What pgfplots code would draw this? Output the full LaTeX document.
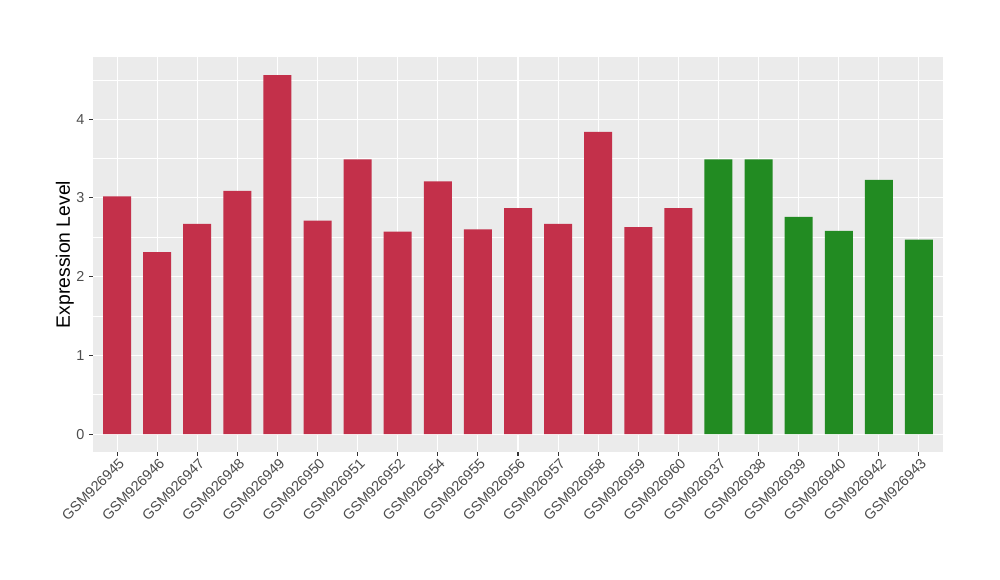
\documentclass[border=0pt]{standalone}
\usepackage{pgfplots}
\pgfplotsset{compat=1.18}
\usepackage{fontspec}
\setmainfont{Liberation Sans}
\definecolor{barred}{HTML}{C3304A}
\definecolor{bargreen}{HTML}{228B22}
\definecolor{panelbg}{HTML}{EBEBEB}
\definecolor{tickgrey}{HTML}{4D4D4D}
\definecolor{tickmark}{HTML}{333333}
\begin{document}
\begin{tikzpicture}[x=0.75pt,y=0.75pt]
\useasboundingbox (0,0) rectangle (1000,580);
\begin{axis}[
  at={(93*0.75pt,128*0.75pt)}, anchor=south west,
  scale only axis, width=637.5pt, height=296.25pt,
  xmin=0.4, xmax=21.6, ymin=-0.228, ymax=4.79,
  axis background/.style={fill=panelbg},
  axis line style={draw=none},
  xtick={1,...,21},
  xticklabels={GSM926945,GSM926946,GSM926947,GSM926948,GSM926949,GSM926950,GSM926951,GSM926952,GSM926954,GSM926955,GSM926956,GSM926957,GSM926958,GSM926959,GSM926960,GSM926937,GSM926938,GSM926939,GSM926940,GSM926942,GSM926943},
  ytick={0,1,2,3,4},
  minor ytick={0.5,1.5,2.5,3.5,4.5},
  xtick pos=bottom, ytick pos=left,
  tick align=outside,
  major tick length=3pt, minor tick length=0pt,
  major tick style={tickmark, line width=0.8pt},
  grid=both,
  major grid style={white, line width=0.8pt},
  minor grid style={white, line width=0.4pt},
  xticklabel style={font=\fontsize{10.8pt}{13pt}\selectfont, text=tickgrey, rotate=45, anchor=north east, inner sep=1pt, xshift=1pt},
  yticklabel style={font=\fontsize{10.8pt}{13pt}\selectfont, text=tickgrey},
  /pgf/number format/assume math mode=true,
  ylabel={Expression Level},
  ylabel style={font=\fontsize{14.5pt}{17pt}\selectfont, text=black, yshift=-5pt},
  ybar, bar width=21pt, bar shift=0pt,
]
\addplot[fill=barred, draw=none] coordinates {
(1,3.02) (2,2.31) (3,2.67) (4,3.09) (5,4.56) (6,2.71) (7,3.49) (8,2.57)
(9,3.21) (10,2.60) (11,2.87) (12,2.67) (13,3.84) (14,2.63) (15,2.87)};
\addplot[fill=bargreen, draw=none] coordinates {
(16,3.49) (17,3.49) (18,2.76) (19,2.58) (20,3.23) (21,2.47)};
\end{axis}
\end{tikzpicture}
\end{document}
